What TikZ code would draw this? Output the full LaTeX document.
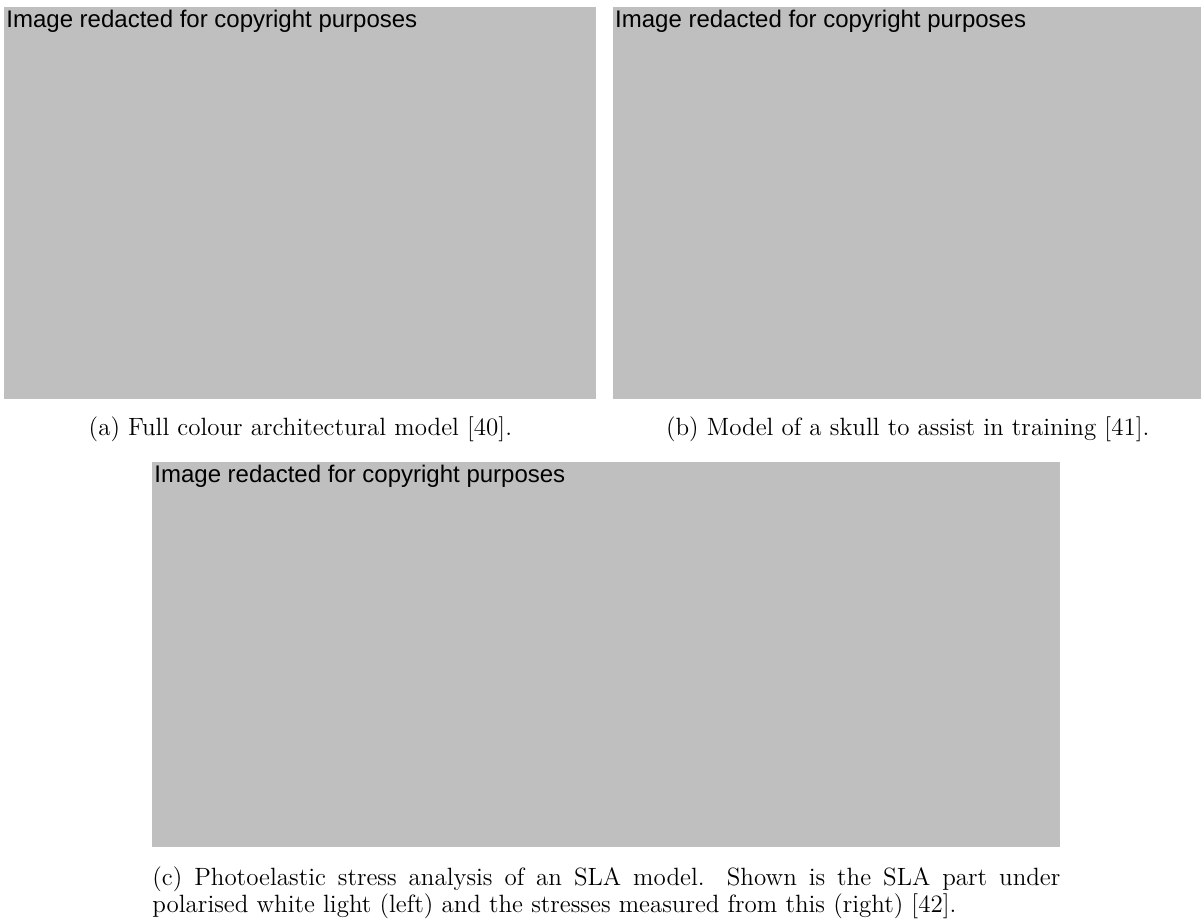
\documentclass[tikz,border=0pt]{standalone}
\usepackage{fontspec}
\newfontfamily\redactfont{Liberation Sans}
\usetikzlibrary{positioning}
\definecolor{redactgray}{RGB}{191,191,191}

\begin{document}
\begin{tikzpicture}[
                x=0.5pt, y=-0.5pt,
                node distance=8pt,
                photo/.style={rectangle, fill=redactgray, inner sep=0pt, anchor=north west},
                notice/.style={anchor=north west, inner sep=0pt, font=\redactfont\fontsize{12}{14}\selectfont},
                caption/.style={anchor=base, inner sep=0pt, font=\fontsize{12.5}{13.5}\selectfont}
            ]
            \useasboundingbox (0,0) rectangle (1201,921);

            % Top row
            \node[photo, minimum width=296pt, minimum height=196pt] (photoA) at (4,7) {};
            \node[photo, minimum width=294.5pt, minimum height=196pt, right=8pt of photoA] (photoB) {};
            \node[notice] (noticeA) at ([shift={(1pt,-1.5pt)}]photoA.north west) {Image redacted for copyright purposes};
            \node[notice] (noticeB) at ([shift={(1pt,-1.5pt)}]photoB.north west) {Image redacted for copyright purposes};
            \node[caption] (capA) at ([yshift=-18pt]photoA.south) {(a) Full colour architectural model [40].};
            \node[caption] (capB) at ([yshift=-18pt]photoB.south) {(b) Model of a skull to assist in training [41].};

            % Bottom row
            \node[photo, minimum width=454pt, minimum height=192.5pt] (photoC) at (152,462) {};
            \node[notice] (noticeC) at ([shift={(1pt,-1.5pt)}]photoC.north west) {Image redacted for copyright purposes};
            \node[caption, anchor=north west, text width=454pt, align=justify] (capC) at ([yshift=-9.5pt]photoC.south west) {(c) Photoelastic stress analysis of an SLA model. Shown is the SLA part under polarised white light (left) and the stresses measured from this (right) [42].};
        \end{tikzpicture}
\end{document}
